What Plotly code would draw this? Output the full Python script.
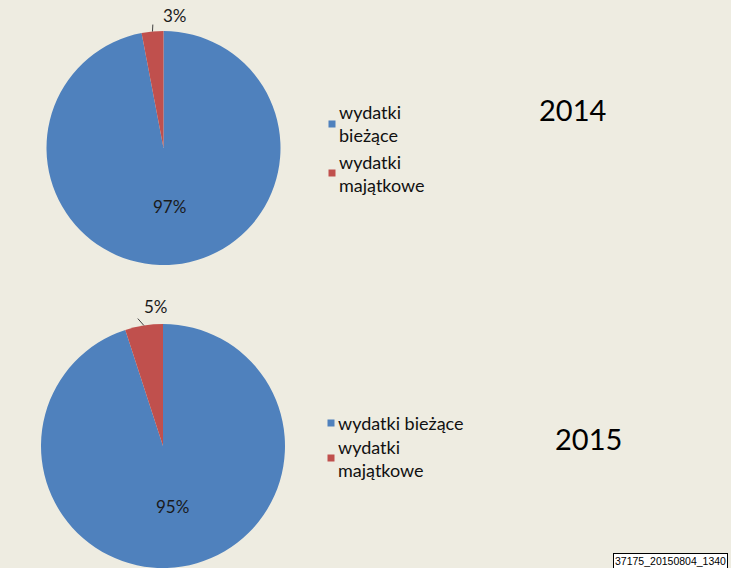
import math
import plotly.graph_objects as go

# ---- data ----
years = ["2014", "2015"]
categories = ["wydatki bieżące", "wydatki majątkowe"]
shares_2014 = [97, 3]
shares_2015 = [95, 5]
colors = ["#4F81BD", "#C0504D"]

W, H = 731, 568
BG = "#EEECE1"
FONT = "Lato"

def px(x):
    return x / W

def py(y):
    return 1 - y / H

# style: pie geometry in pixels (cx, cy, r), label offsets, legend positions, wraps
pies = [
    dict(values=shares_2014, year=years[0], cx=163.5, cy=148, r=117,
         out_off=(23, -16), line_dx=1, leg_x=332, leg_y=[124, 173], wrap=[True, True],
         year_xy=(572, 110)),
    dict(values=shares_2015, year=years[1], cx=163, cy=446, r=122,
         out_off=(12, -19), line_dx=-5, leg_x=331, leg_y=[423, 458], wrap=[False, True],
         year_xy=(588, 438)),
]

fig = go.Figure()
annotations = []
shapes = []

def txt_ann(x, y, text, size, color="#1a1a1a", xanchor="center", align="center"):
    return dict(x=px(x), y=py(y), xref="paper", yref="paper", text=text,
                showarrow=False, xanchor=xanchor, yanchor="middle", align=align,
                font=dict(family=FONT, size=size, color=color))

for p in pies:
    cx, cy, r = p["cx"], p["cy"], p["r"]
    fig.add_trace(go.Pie(
        labels=categories, values=p["values"], sort=False, direction="clockwise",
        rotation=0, marker=dict(colors=colors, line=dict(width=0)),
        textinfo="none", hoverinfo="label+percent", showlegend=False,
        domain=dict(x=[px(cx - r), px(cx + r)], y=[py(cy + r), py(cy - r)]),
    ))
    total = sum(p["values"])
    start = 0.0
    for i, v in enumerate(p["values"]):
        frac = v / total
        mid = start + frac * 180.0  # degrees clockwise from 12 o'clock
        start += frac * 360.0
        ang = math.radians(mid)
        pct = f"{round(frac * 100)}%"
        if frac > 0.5:
            tx = cx + 0.5 * r * math.sin(ang)
            ty = cy - 0.5 * r * math.cos(ang)
            annotations.append(txt_ann(tx, ty, pct, 17))
        else:
            ex = cx + r * math.sin(ang)
            ey = cy - r * math.cos(ang)
            lx = cx + (r + 7) * math.sin(ang)
            ly = cy - (r + 7) * math.cos(ang)
            shapes.append(dict(type="line", xref="paper", yref="paper",
                               x0=px(ex), y0=py(ey), x1=px(lx + p["line_dx"]), y1=py(ly),
                               line=dict(color="#404040", width=1)))
            ox, oy = p["out_off"]
            annotations.append(txt_ann(ex + ox, ey + oy, pct, 17))
    # legend
    for i, cat in enumerate(categories):
        ly = p["leg_y"][i]
        s = 3.5
        shapes.append(dict(type="rect", xref="paper", yref="paper",
                           x0=px(p["leg_x"] - s), x1=px(p["leg_x"] + s),
                           y0=py(ly + s), y1=py(ly - s),
                           fillcolor=colors[i], line=dict(width=0)))
        txt = cat.replace(" ", "<br>", 1) if p["wrap"][i] else cat
        annotations.append(txt_ann(p["leg_x"] + 5, ly, txt, 18, color="#111111",
                                   xanchor="left", align="left"))
    yx, yy = p["year_xy"]
    annotations.append(txt_ann(yx, yy, p["year"], 29, color="#000000"))

annotations.append(dict(x=px(613), y=py(560.5), xref="paper", yref="paper",
                        xanchor="left", yanchor="middle", text="37175_20150804_1340",
                        showarrow=False, bgcolor="white", bordercolor="#000000",
                        borderwidth=1, borderpad=1,
                        font=dict(family="Liberation Sans", size=10.5, color="#000000")))

fig.update_layout(
    width=W, height=H, margin=dict(l=0, r=0, t=0, b=0),
    paper_bgcolor=BG, plot_bgcolor=BG,
    annotations=annotations, shapes=shapes, showlegend=False,
)

fig.write_html("out.html", config={"displayModeBar": False},
               post_script="document.body.style.margin='0';document.body.style.overflow='hidden';")
